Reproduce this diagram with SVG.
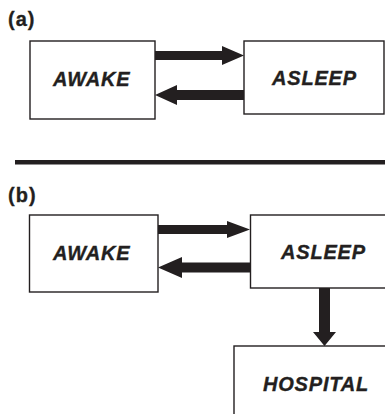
<svg xmlns="http://www.w3.org/2000/svg" width="385" height="414" viewBox="0 0 385 414">
<style>
.box{fill:#fff;stroke:#231f20;stroke-width:1.4}
.lbl{font-family:"Liberation Sans",Arial,sans-serif;font-weight:bold;font-style:italic;font-size:20px;letter-spacing:0.8px;fill:#231f20;stroke:#231f20;stroke-width:0.35}
.tag{font-family:"Liberation Sans",Arial,sans-serif;font-weight:bold;font-size:20px;letter-spacing:1px;fill:#231f20;stroke:#231f20;stroke-width:0.3}
.arr{fill:#231f20}
</style>
<rect width="385" height="414" fill="#fff"/>
<text class="tag" x="8" y="26">(a)</text>
<rect x="15" y="160" width="372" height="4.5" fill="#231f20"/>
<text class="tag" x="8" y="202">(b)</text>
<g id="a-awake"><rect class="box" x="30" y="41" width="125" height="78"/><text class="lbl" x="53" y="86">AWAKE</text></g>
<g id="a-asleep"><rect class="box" x="244" y="41" width="140" height="73"/><text class="lbl" x="272" y="85">ASLEEP</text></g>
<g id="b-awake"><rect class="box" x="29.5" y="215" width="128.5" height="77"/><text class="lbl" x="53" y="260">AWAKE</text></g>
<g id="b-asleep"><rect class="box" x="250.5" y="215" width="150" height="73"/><text class="lbl" x="281" y="259">ASLEEP</text></g>
<g id="b-hospital"><rect class="box" x="234" y="346" width="170" height="90"/><text class="lbl" x="263" y="391">HOSPITAL</text></g>
<g id="connectors">
<polygon class="arr" points="155,51 222,51 222,46 244,55.5 222,65 222,60 155,60"/>
<polygon class="arr" points="244,90 177,90 177,85 155,95 177,105 177,100 244,100"/>
<polygon class="arr" points="158,225 227,225 227,221 250,229.5 227,238 227,234 158,234"/>
<polygon class="arr" points="250,262.5 182,262.5 182,257 158,267.5 182,278 182,272.5 250,272.5"/>
<polygon class="arr" points="319,288 330,288 330,332 336,332 324.5,346 313,332 319,332"/>
</g>
</svg>
